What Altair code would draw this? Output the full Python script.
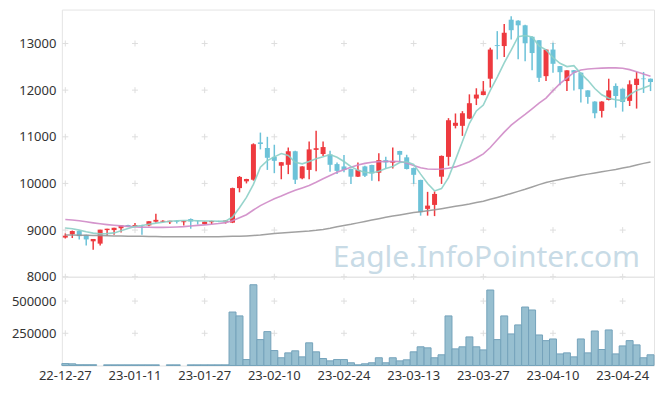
import altair as alt
import pandas as pd

dates = [
    "22-12-27", "22-12-28", "22-12-29",
    "23-01-02", "23-01-03", "23-01-04", "23-01-05", "23-01-06",
    "23-01-09", "23-01-10", "23-01-11", "23-01-12", "23-01-13",
    "23-01-16", "23-01-17", "23-01-18", "23-01-19", "23-01-20",
    "23-01-25", "23-01-26", "23-01-27",
    "23-01-30", "23-01-31", "23-02-01", "23-02-02", "23-02-03",
    "23-02-06", "23-02-07", "23-02-08", "23-02-09", "23-02-10",
    "23-02-13", "23-02-14", "23-02-15", "23-02-16", "23-02-17",
    "23-02-20", "23-02-21", "23-02-22", "23-02-23", "23-02-24",
    "23-02-27", "23-02-28", "23-03-02", "23-03-03",
    "23-03-06", "23-03-07", "23-03-08", "23-03-09", "23-03-10",
    "23-03-13", "23-03-14", "23-03-15", "23-03-16", "23-03-17",
    "23-03-20", "23-03-21", "23-03-22", "23-03-23", "23-03-24",
    "23-03-27", "23-03-28", "23-03-29", "23-03-30", "23-03-31",
    "23-04-03", "23-04-04", "23-04-05", "23-04-06", "23-04-07",
    "23-04-10", "23-04-11", "23-04-12", "23-04-13", "23-04-14",
    "23-04-17", "23-04-18", "23-04-19", "23-04-20", "23-04-21",
    "23-04-24", "23-04-25", "23-04-26", "23-04-27", "23-04-28",
]

opens = [8840, 8910, 8980, 8900, 8760, 8710, 9000, 9000, 9040, 9110,
         9075, 9110, 9100, 9180, 9180, 9170, 9200, 9170, 9240, 9200,
         9130, 9170, 9195, 9180, 9160, 9900, 10045, 10080, 10880, 10760,
         10570, 10380, 10400, 10690, 10110, 10290, 10720, 10630, 10620, 10415,
         10365, 10310, 10145, 10365, 10395, 10230, 10500, 10445, 10695, 10560,
         10330, 10075, 9455, 9540, 10145, 10570, 11235, 11235, 11390, 11820,
         11895, 12245, 12965, 12945, 13510, 13490, 13390, 13145, 13070, 12300,
         12870, 12515, 12195, 12425, 12375, 11995, 11755, 11555, 11790, 12090,
         12030, 11770, 12110, 12250, 12245]
highs = [8930, 8990, 8990, 8900, 8810, 9010, 9030, 9050, 9100, 9115,
         9150, 9115, 9190, 9350, 9210, 9200, 9210, 9200, 9250, 9205,
         9185, 9200, 9200, 9210, 9910, 10160, 10100, 10860, 11090, 11000,
         10830, 10460, 10770, 10700, 10370, 10900, 11130, 10900, 10700, 10450,
         10610, 10320, 10450, 10380, 10400, 10650, 10570, 10770, 10700, 10615,
         10340, 10080, 9820, 9830, 10600, 11400, 11500, 11550, 11910, 12040,
         12195, 12910, 13265, 13420, 13585, 13500, 13400, 13150, 13075, 12875,
         13015, 12520, 12425, 12430, 12380, 12000, 11760, 11760, 12245, 12145,
         12035, 12210, 12390, 12390, 12250]
lows = [8820, 8830, 8800, 8670, 8580, 8670, 8880, 8900, 8950, 9075,
        9070, 8900, 9080, 9160, 9170, 9130, 9140, 9100, 9030, 9120,
        9120, 9130, 9170, 9140, 9150, 9810, 10000, 10060, 10730, 10290,
        10220, 10090, 10200, 9990, 10090, 10090, 10260, 10590, 10250, 10200,
        10240, 9990, 10140, 10140, 10060, 10045, 10320, 10320, 10450, 10300,
        9990, 9310, 9310, 9300, 9990, 10380, 11180, 11020, 11380, 11680,
        11890, 12055, 12660, 12710, 13085, 12660, 12620, 12425, 12175, 12195,
        12375, 12105, 11980, 11995, 11735, 11710, 11400, 11415, 11780, 11625,
        11540, 11660, 11605, 11940, 11980]
closes = [8880, 8980, 8870, 8800, 8810, 9010, 9030, 9050, 9100, 9080,
          9110, 9100, 9190, 9220, 9200, 9200, 9180, 9190, 9185, 9190,
          9180, 9195, 9185, 9205, 9900, 10140, 10095, 10840, 10845, 10550,
          10485, 10455, 10690, 10080, 10365, 10730, 10755, 10780, 10400, 10270,
          10290, 10145, 10290, 10165, 10215, 10500, 10450, 10480, 10615, 10310,
          10185, 9385, 9525, 9775, 10590, 11355, 11300, 11505, 11720, 11905,
          11975, 12870, 12945, 13230, 13285, 13390, 13005, 12795, 12265, 12870,
          12565, 12385, 12425, 12375, 12020, 11855, 11505, 11755, 11995, 11875,
          11745, 12125, 12245, 12235, 12175]
volumes = [15000, 13000, 6000, 6000, 6000, 0, 5000, 5000, 5000, 5000,
           5000, 5000, 5000, 5000, 0, 5000, 5000, 0, 5000, 5000,
           5000, 5000, 5000, 5000, 415000, 385000, 46000, 627000, 201000, 263000,
           116000, 60000, 98000, 114000, 67000, 176000, 106000, 54000, 36000, 46000,
           46000, 21000, 5000, 13000, 21000, 60000, 21000, 60000, 36000, 44000,
           106000, 145000, 137000, 60000, 83000, 385000, 129000, 145000, 222000, 145000,
           121000, 586000, 201000, 385000, 245000, 315000, 454000, 431000, 237000, 193000,
           206000, 90000, 98000, 67000, 206000, 98000, 268000, 124000, 276000, 90000,
           152000, 193000, 160000, 60000, 83000]
ma5 = [9045, 9030, 9000, 8965, 8935, 8920, 8925, 8940, 8985, 9035,
       9080, 9100, 9125, 9150, 9170, 9190, 9200, 9205, 9205, 9200,
       9195, 9195, 9190, 9192, 9280, 9480, 9700, 9980, 10350, 10490,
       10570, 10640, 10600, 10455, 10420, 10470, 10530, 10570, 10620, 10560,
       10470, 10360, 10285, 10240, 10225, 10260, 10320, 10365, 10450, 10465,
       10410, 10200, 10000, 9840, 9890, 10125, 10505, 10900, 11290, 11555,
       11680, 11995, 12280, 12585, 12860, 13145, 13170, 13140, 12950, 12865,
       12700, 12575, 12505, 12525, 12355, 12210, 12035, 11900, 11825, 11795,
       11775, 11900, 11995, 12045, 12105]
ma20 = [9228, 9215, 9200, 9178, 9155, 9135, 9118, 9103, 9090, 9080,
        9070, 9064, 9060, 9058, 9058, 9060, 9066, 9075, 9088, 9102,
        9113, 9125, 9140, 9160, 9200, 9265, 9330, 9430, 9525, 9600,
        9670, 9730, 9795, 9855, 9905, 9955, 10025, 10100, 10170, 10240,
        10295, 10345, 10395, 10430, 10455, 10468, 10472, 10474, 10470, 10440,
        10385, 10335, 10310, 10305, 10310, 10325, 10355, 10405, 10465, 10545,
        10635, 10770, 10935, 11100, 11250, 11370, 11480, 11600, 11720, 11830,
        11990, 12140, 12260, 12380, 12430, 12455, 12465, 12472, 12478, 12478,
        12468, 12440, 12395, 12345, 12300]
ma60 = [8895, 8893, 8890, 8888, 8885, 8882, 8879, 8876, 8873, 8870,
        8868, 8866, 8864, 8862, 8860, 8859, 8858, 8857, 8856, 8856,
        8856, 8857, 8859, 8862, 8866, 8870, 8876, 8884, 8895, 8910,
        8925, 8938, 8950, 8960, 8970, 8980, 8995, 9015, 9040, 9070,
        9100, 9125, 9155, 9185, 9215, 9245, 9275, 9300, 9325, 9350,
        9375, 9395, 9415, 9435, 9460, 9485, 9510, 9535, 9560, 9590,
        9620, 9660, 9700, 9740, 9785, 9830, 9875, 9925, 9975, 10020,
        10055, 10085, 10115, 10145, 10175, 10200, 10225, 10250, 10275, 10300,
        10330, 10360, 10395, 10430, 10460]

price_ticks = [8000, 9000, 10000, 11000, 12000, 13000]
volume_ticks = [250000, 500000]
label_dates = dates[::10]
watermark = "Eagle.InfoPointer.com"

UP = "#ee3a3f"
DOWN = "#6cc2d8"

df = pd.DataFrame({
    "date": dates, "open": opens, "high": highs, "low": lows, "close": closes,
    "volume": volumes, "ma5": ma5, "ma20": ma20, "ma60": ma60,
})
df["dir"] = ["up" if c >= o else "down" for o, c in zip(opens, closes)]

xscale = alt.Scale(domain=dates, paddingInner=0, paddingOuter=0)
x_hidden = alt.X("date:O", scale=xscale, axis=None)
price_scale = alt.Scale(domain=[8000, 13727], nice=False, zero=False)
price_axis = alt.Axis(values=price_ticks, format="d", title=None, ticks=False,
                      domain=False, grid=False, labelPadding=6)
color_enc = alt.Color("dir:N", scale=alt.Scale(domain=["up", "down"], range=[UP, DOWN]),
                      legend=None)

base = alt.Chart(df)

cross_price = pd.DataFrame([(d, v) for d in label_dates for v in price_ticks],
                           columns=["date", "v"])
cross_vol = pd.DataFrame([(d, v) for d in label_dates for v in volume_ticks],
                         columns=["date", "volume"])
cross_shape = "M-1,0H1M0,-1V1"

crosses_p = alt.Chart(cross_price).mark_point(
    shape=cross_shape, size=36, filled=False, stroke="#dedede", strokeWidth=1, opacity=1
).encode(x=x_hidden, y=alt.Y("v:Q", scale=price_scale, axis=price_axis))

wm = alt.Chart(pd.DataFrame({"t": [watermark]})).mark_text(
    align="right", baseline="alphabetic", fontSize=30, font="Noto Sans", color="#c8dbe6"
).encode(text="t:N", x=alt.value(580), y=alt.value(258))

wick = base.mark_rule(strokeWidth=1.5).encode(
    x=x_hidden, y=alt.Y("low:Q", scale=price_scale, axis=price_axis), y2="high:Q",
    color=color_enc)
body = base.mark_bar(size=5).encode(
    x=x_hidden, y=alt.Y("open:Q", scale=price_scale, axis=price_axis), y2="close:Q",
    color=color_enc)

def ma_line(field, color, width):
    return base.mark_line(color=color, strokeWidth=width, opacity=0.9).encode(
        x=x_hidden, y=alt.Y(f"{field}:Q", scale=price_scale, axis=price_axis))

price = alt.layer(
    crosses_p, wm, wick, body,
    ma_line("ma60", "#979797", 1.5),
    ma_line("ma20", "#cf8ac7", 1.6),
    ma_line("ma5", "#8ccfc6", 1.6),
).properties(width=594, height=268)

x_vol = alt.X("date:O", scale=xscale, title=None,
              axis=alt.Axis(values=label_dates, labelAngle=0, ticks=False, domain=False,
                            grid=False, labelPadding=4, labelOverlap=False))
vol_scale = alt.Scale(domain=[0, 689000], nice=False)
vol_axis = alt.Axis(values=volume_ticks, format="d", title=None, ticks=False,
                    domain=False, grid=False, labelPadding=6)

crosses_v = alt.Chart(cross_vol).mark_point(
    shape=cross_shape, size=36, filled=False, stroke="#dedede", strokeWidth=1, opacity=1
).encode(x=x_vol, y=alt.Y("volume:Q", scale=vol_scale, axis=vol_axis))

vol_bars = base.transform_filter("datum.volume > 0").mark_bar(
    fill="#97bfd0", stroke="#74a3bb", strokeWidth=1
).encode(x=x_vol, y=alt.Y("volume:Q", scale=vol_scale, axis=vol_axis))

volume = alt.layer(crosses_v, vol_bars).properties(width=594, height=89)

chart = alt.vconcat(price, volume, spacing=0, bounds="flush").properties(
    padding={"left": 2, "top": 0, "right": 2, "bottom": 2},
    background="white",
).configure_view(stroke="#e4e4e4").configure_axis(
    labelFont="Noto Sans", labelFontSize=13, labelColor="#333333"
)

chart.save("out.html", embed_options={"renderer": "svg", "actions": False})
